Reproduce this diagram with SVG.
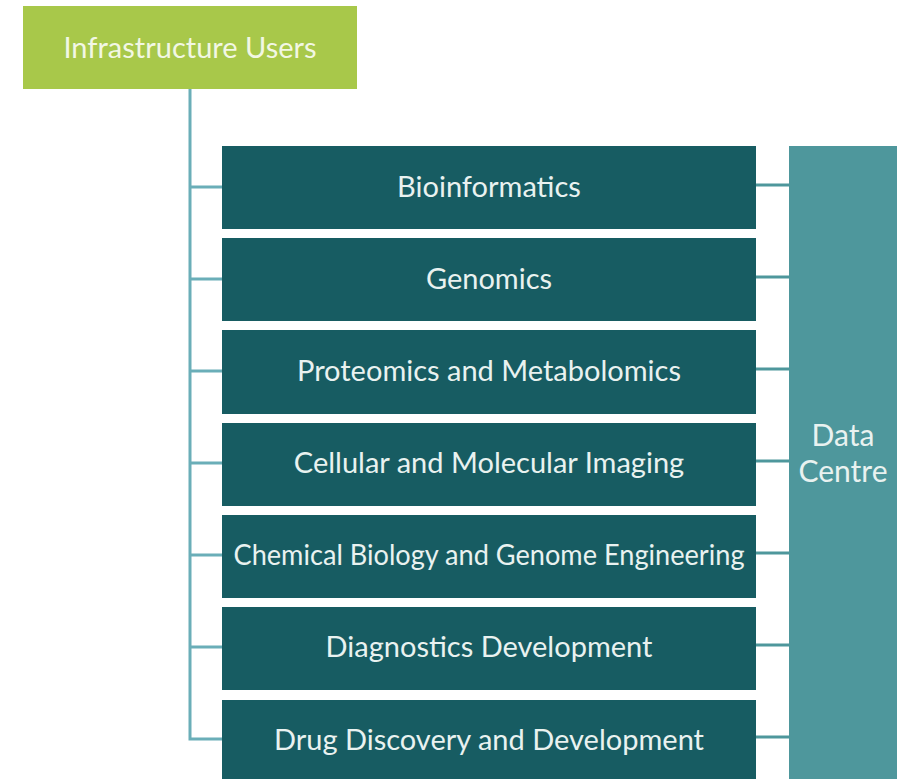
<svg xmlns="http://www.w3.org/2000/svg" width="904" height="779" viewBox="0 0 904 779">
<style>
text{font-family:Lato,"Open Sans","Liberation Sans",sans-serif;font-size:29px;fill:#e9f2f0;text-anchor:middle;dominant-baseline:central}
.area rect{fill:#175c62}
.conn{stroke:#6aaeb8;stroke-width:3;fill:none}
</style>
<rect width="904" height="779" fill="#ffffff"/>
<g id="connectors">
<path class="conn" d="M190 89 V739 H222"/>
<path class="conn" d="M190 187 H222 M190 279 H222 M190 371 H222 M190 463 H222 M190 555 H222 M190 647 H222"/>
<path class="conn" style="stroke:#4e979c" d="M756 185 H789 M756 277 H789 M756 369 H789 M756 461 H789 M756 553 H789 M756 645 H789 M756 737 H789"/>
</g>
<g id="infrastructure-users"><rect x="23" y="6" width="334" height="83" fill="#a8c84a"/><text x="190" y="46" style="fill:#f2f7e4">Infrastructure Users</text></g>
<g id="bioinformatics" class="area"><rect x="222" y="146" width="534" height="83"/><text x="489" y="185">Bioinformatics</text></g>
<g id="genomics" class="area"><rect x="222" y="238" width="534" height="83"/><text x="489" y="277">Genomics</text></g>
<g id="proteomics" class="area"><rect x="222" y="330" width="534" height="84"/><text x="489" y="369">Proteomics and Metabolomics</text></g>
<g id="imaging" class="area"><rect x="222" y="423" width="534" height="83"/><text x="489" y="461">Cellular and Molecular Imaging</text></g>
<g id="chembio" class="area"><rect x="222" y="515" width="534" height="83"/><text x="489" y="553" textLength="511" lengthAdjust="spacingAndGlyphs">Chemical Biology and Genome Engineering</text></g>
<g id="diagnostics" class="area"><rect x="222" y="607" width="534" height="83"/><text x="489" y="645">Diagnostics Development</text></g>
<g id="drug" class="area"><rect x="222" y="700" width="534" height="79"/><text x="489" y="738">Drug Discovery and Development</text></g>
<g id="data-centre"><rect x="789" y="146" width="108" height="633" fill="#4e979c"/><text x="843" y="434" style="font-size:30px">Data</text><text x="843" y="470" style="font-size:30px">Centre</text></g>
</svg>
